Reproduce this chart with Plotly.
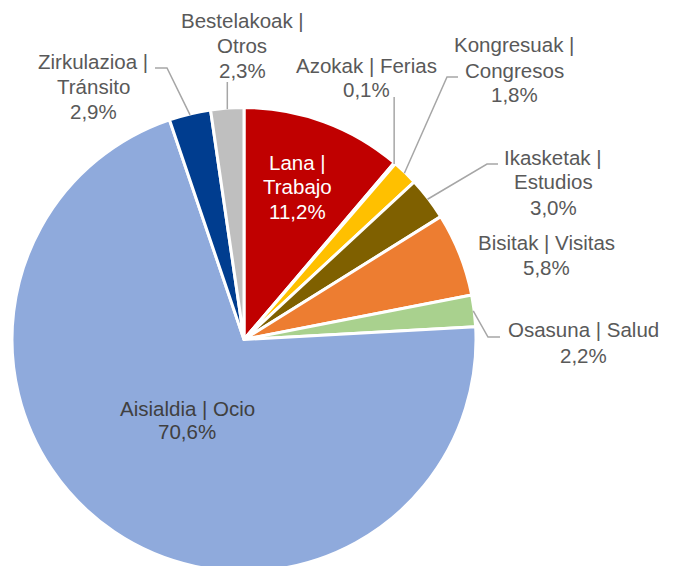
import plotly.graph_objects as go
import math

# ---- data ----
categories = ["Lana | Trabajo", "Azokak | Ferias", "Kongresuak | Congresos",
              "Ikasketak | Estudios", "Bisitak | Visitas", "Osasuna | Salud",
              "Aisialdia | Ocio", "Zirkulazioa | Tránsito", "Bestelakoak | Otros"]
values = [11.2, 0.1, 1.8, 3.0, 5.8, 2.2, 70.6, 2.9, 2.3]
colors = ["#C00000", "#A5A5A5", "#FFC000", "#7F6000", "#ED7D31",
          "#A9D18E", "#8FAADC", "#003D8F", "#BFBFBF"]

# ---- layout (pixels) ----
W, H = 677, 572
cx, cy, r = 244.0, 339.5, 232.0

def px(x):
    return x / W

def py(y):
    return 1 - y / H

# label layout: wrap name?, center x, first line y, line step, text colour, leader elbow points
label_layout = {
    "Lana | Trabajo":          (True,  297, 162, 24.5, "white", None),
    "Azokak | Ferias":         (False, 367, 65, 25, "#595959", "v97"),
    "Kongresuak | Congresos":  (True,  514, 45, 25, "#595959", [(447, 77), (458, 77)]),
    "Ikasketak | Estudios":    (True,  553, 157, 25, "#595959", [(487, 164), (498, 164)]),
    "Bisitak | Visitas":       (False, 546, 242, 25, "#595959", None),
    "Osasuna | Salud":         (False, 583, 330, 25, "#595959", [(488, 337), (500, 337)]),
    "Aisialdia | Ocio":        (False, 187, 408, 23, "#404040", None),
    "Zirkulazioa | Tránsito":  (True,  93, 62, 24.5, "#595959", [(167, 68), (155, 68)]),
    "Bestelakoak | Otros":     (True,  242, 21, 24.5, "#595959", "v82"),
}

fig = go.Figure(go.Pie(
    labels=categories, values=values, sort=False, direction="clockwise",
    rotation=0, textinfo="none", hoverinfo="skip",
    marker=dict(colors=colors, line=dict(color="white", width=3)),
    domain=dict(x=[px(cx - r), px(cx + r)], y=[py(cy + r), py(cy - r)]),
    showlegend=False,
))

total = sum(values)
cum = 0.0
font_family = "Liberation Sans"
for name, v in zip(categories, values):
    mid = (cum + v / 2) / total * 2 * math.pi
    cum += v
    wrap, lx, ly, step, col, elbow = label_layout[name]
    parts = name.split(" | ")
    lines = [parts[0] + " |", parts[1]] if wrap else [name]
    lines.append(f"{v:.1f}".replace(".", ",") + "%")
    for i, t in enumerate(lines):
        fig.add_annotation(x=px(lx), y=py(ly + i * step), xref="paper", yref="paper",
                           text=t, showarrow=False, xanchor="center", yanchor="middle",
                           font=dict(family=font_family, size=20.5, color=col))
    if elbow is not None:
        ax = cx + (r - 1) * math.sin(mid)
        ay = cy - (r - 1) * math.cos(mid)
        if isinstance(elbow, str):
            pts = [(ax, ay), (ax, float(elbow[1:]))]
        else:
            pts = [(ax, ay)] + elbow
        path = "M " + " L ".join(f"{px(x):.5f},{py(y):.5f}" for x, y in pts)
        fig.add_shape(type="path", path=path, xref="paper", yref="paper",
                      line=dict(color="#A6A6A6", width=1.5))

fig.update_layout(width=W, height=H, margin=dict(l=0, r=0, t=0, b=0),
                  paper_bgcolor="white", plot_bgcolor="white")

fig.write_html("out.html", config={"displayModeBar": False}, post_script=(
    "document.body.style.margin='0';"
    "document.body.style.overflow='hidden';"
    "document.documentElement.style.overflow='hidden';"))
